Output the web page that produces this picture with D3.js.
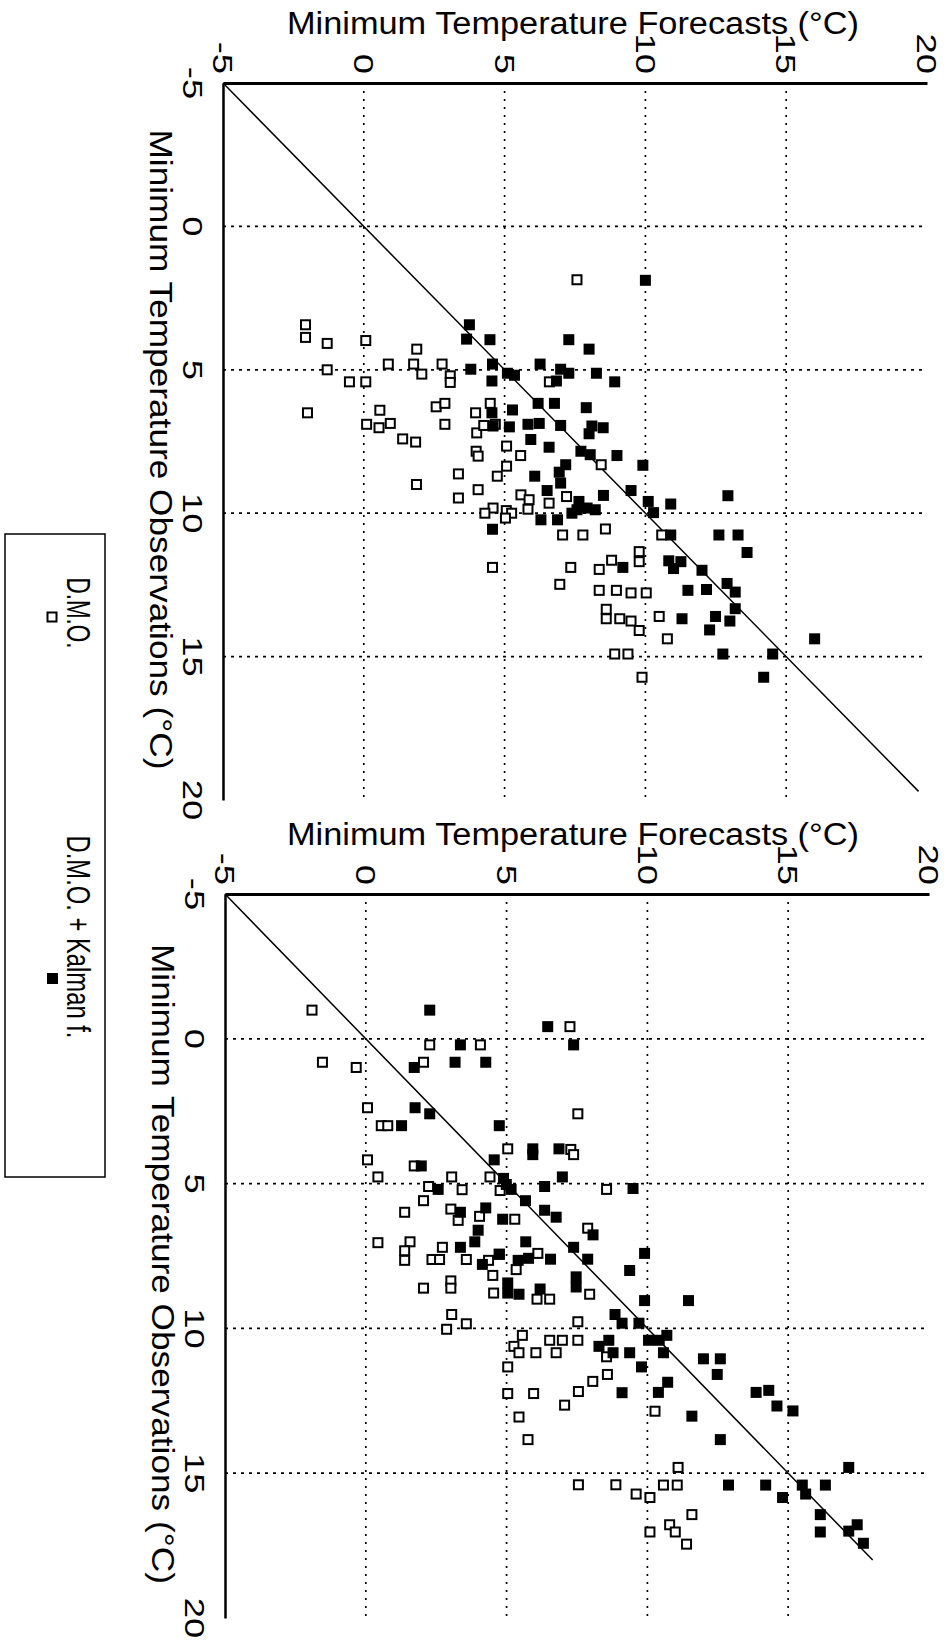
<!DOCTYPE html>
<html>
<head>
<meta charset="utf-8">
<script src="https://cdn.jsdelivr.net/npm/d3@7"></script>
<style>
  body { margin: 0; background: #fff; }
  svg { display: block; }
  text { font-family: "Liberation Sans", Arial, Helvetica, sans-serif; fill: #000; }
</style>
</head>
<body>
<svg id="chart" width="949" height="1641"></svg>
<script>
// ---------- data ----------
const forecastTicks = [-5, 0, 5, 10, 15, 20];
const observationTicks = [-5, 0, 5, 10, 15, 20];
const gridValues = [0, 5, 10, 15];
const forecastTitle = "Minimum Temperature Forecasts (\u00B0C)";
const observationTitle = "Minimum Temperature Observations (\u00B0C)";
const seriesNames = ["D.M.O.", "D.M.O. + Kalman f."];

// [forecast, observation] pairs — upper panel
const upperDMO = [
  [7.57,1.86],[-2.07,3.43],[-2.07,3.87],[-1.30,4.08],[0.07,3.98],[1.88,4.28],[-1.30,5.0],[0.87,4.80],
  [1.77,4.80],[2.78,4.80],[2.06,5.15],[-0.51,5.42],[0.07,5.42],[3.07,5.21],[3.07,5.44],[-2.0,6.50],
  [0.57,6.41],[0.10,6.90],[0.54,7.02],[0.94,6.87],[1.38,7.41],[1.84,7.52],[2.57,6.29],[2.88,6.17],
  [2.88,6.90],[4.49,6.17],[3.97,6.50],[4.01,7.2],[4.67,6.90],[4.26,6.94],[3.99,7.84],[4.06,8.01],
  [5.07,7.66],[5.57,7.99],[5.07,8.36],[6.59,5.42],[3.36,8.63],[1.87,9.0],[4.74,8.71],[4.06,9.18],
  [3.36,9.47],[8.43,8.31],[5.58,9.36],[5.87,9.53],[6.58,9.65],[7.2,9.42],[4.59,9.82],[4.30,10.0],
  [5.06,9.91],[5.25,10.0],[5.03,10.17],[5.83,9.86],[7.06,10.76],[7.78,10.76],[8.58,10.55],[4.57,11.89],
  [7.35,11.89],[6.96,12.48],[8.36,11.96],[8.80,11.64],[9.78,11.34],[9.78,11.69],[10.58,10.76],[8.36,12.69],
  [8.97,12.69],[9.49,12.78],[10.03,12.78],[8.61,13.35],[8.61,13.68],[9.09,13.68],[9.49,13.76],[9.78,14.09],
  [10.49,13.60],[10.78,14.38],[8.91,14.91],[9.38,14.91],[9.88,15.72]
];
const upperKalman = [
  [10.0,1.88],[3.75,3.43],[3.65,3.93],[4.48,3.95],[7.28,3.95],[8.0,4.28],[3.80,4.98],[4.57,4.80],
  [5.10,5.12],[5.35,5.19],[4.55,5.39],[6.26,4.80],[6.99,4.98],[7.28,5.12],[6.84,5.39],[8.26,5.12],
  [8.91,5.42],[6.19,6.17],[6.77,6.17],[5.28,6.40],[4.55,6.50],[7.90,6.32],[4.59,6.96],[5.17,6.99],
  [5.83,6.90],[6.23,6.87],[6.99,6.94],[8.1,6.96],[8.5,7.02],[8.0,7.23],[5.93,7.43],[6.58,7.70],
  [7.71,7.84],[8.04,7.96],[8.99,7.99],[9.91,8.33],[7.17,8.31],[6.94,8.57],[6.07,8.71],[6.99,8.95],
  [6.51,9.21],[8.51,9.38],[9.49,9.21],[7.64,9.59],[7.57,9.88],[7.93,9.82],[8.22,9.88],[7.39,10.0],
  [6.29,10.23],[6.88,10.23],[4.57,10.56],[10.10,9.59],[10.29,9.98],[10.90,9.68],[12.93,9.39],[10.90,10.76],
  [12.61,10.76],[13.29,10.76],[13.61,11.37],[10.83,11.66],[11.26,11.69],[11.0,11.93],[9.20,11.89],[12.01,11.99],
  [11.51,12.69],[12.17,12.66],[12.90,12.45],[13.19,12.75],[13.19,13.33],[12.49,13.60],[13.0,13.76],[11.30,13.68],
  [12.28,14.07],[16.01,14.38],[12.75,14.91],[14.52,14.91],[14.20,15.72]
];

// [forecast, observation] pairs — lower panel
const lowerDMO = [
  [-1.91,-0.99],[-1.54,0.81],[-0.34,0.99],[2.27,0.21],[4.07,0.21],[2.05,0.81],[7.25,-0.42],[7.53,2.59],
  [0.06,2.38],[0.55,3.0],[0.78,3.0],[0.06,4.18],[0.43,4.77],[5.04,3.80],[7.28,3.82],[7.38,4.0],
  [1.72,4.39],[3.05,4.77],[2.23,5.10],[3.42,5.21],[4.41,4.77],[8.55,5.20],[2.05,5.59],[1.38,5.99],
  [3.02,5.88],[3.28,6.27],[4.04,6.13],[4.77,5.24],[5.29,6.23],[7.88,6.54],[0.43,7.04],[1.57,7.01],
  [1.38,7.32],[1.38,7.65],[2.35,7.62],[2.62,7.62],[2.72,7.20],[3.57,7.62],[4.36,7.65],[4.74,7.44],
  [5.34,7.97],[4.51,8.17],[6.11,7.41],[2.05,8.61],[3.02,8.36],[3.02,8.61],[4.54,8.78],[6.08,8.99],
  [6.53,8.99],[7.95,8.82],[3.05,9.52],[2.87,10.03],[3.57,9.84],[5.56,10.24],[5.26,10.62],[5.44,10.84],
  [6.04,10.84],[6.53,10.41],[6.76,10.84],[6.98,10.41],[7.53,9.77],[7.53,10.41],[8.55,10.98],[5.04,11.33],
  [5.04,12.25],[5.96,12.25],[7.55,12.18],[8.06,11.83],[8.58,11.59],[7.06,12.65],[5.44,13.06],[5.76,13.84],
  [10.27,12.86],[7.55,15.40],[8.88,15.40],[9.60,15.72],[10.09,15.84],[10.57,15.41],[11.06,15.41],[11.09,14.80],
  [11.58,16.43],[10.79,16.78],[10.99,17.03],[11.39,17.45],[10.09,17.03]
];
const lowerKalman = [
  [2.27,-0.99],[6.46,-0.42],[7.38,0.21],[3.36,0.21],[1.72,0.99],[3.17,0.81],[4.26,0.81],[1.75,2.38],
  [2.27,2.59],[1.27,3.0],[4.74,3.0],[4.56,4.18],[5.93,3.80],[5.93,4.0],[6.86,3.80],[1.97,4.39],
  [4.89,4.82],[4.99,5.03],[5.16,5.20],[2.57,5.20],[6.35,5.10],[6.98,4.77],[9.49,5.17],[5.67,5.59],
  [4.26,5.84],[3.36,5.99],[4.86,6.23],[6.35,5.92],[6.76,6.16],[3.99,6.61],[3.87,7.01],[3.36,7.20],
  [5.68,7.01],[4.74,7.44],[4.14,7.79],[5.41,7.65],[5.78,7.58],[6.56,7.61],[7.38,7.20],[7.88,7.61],
  [8.07,6.77],[5.04,8.43],[5.04,8.78],[5.44,8.82],[6.19,8.64],[7.47,8.22],[7.47,8.57],[9.90,7.41],
  [9.37,8.0],[9.90,9.04],[11.46,9.04],[8.85,9.52],[9.10,9.82],[9.70,9.82],[10.69,10.24],[10.04,10.41],
  [10.42,10.41],[8.28,10.62],[8.63,10.41],[8.78,10.84],[9.37,10.84],[10.57,10.84],[9.79,11.33],[11.99,11.05],
  [12.59,11.05],[12.48,11.59],[10.72,11.86],[10.39,12.21],[9.10,12.22],[13.86,12.21],[14.31,12.14],[14.60,12.68],
  [15.17,12.85],[11.58,13.03],[12.59,13.84],[17.15,14.80],[12.88,15.41],[14.20,15.41],[15.50,15.41],[15.62,15.72],
  [16.32,15.41],[14.80,15.84],[16.14,16.43],[16.14,17.03],[17.15,17.0],[17.45,16.78],[17.67,17.42]
];

// ---------- layout ----------
const svg = d3.select("#chart");
const panels = [
  { dmo: upperDMO, kal: upperKalman, xr: [223, 927], yr: [83, 800], diagEnd: 19.7, titleY: 34 },
  { dmo: lowerDMO, kal: lowerKalman, xr: [225, 929], yr: [894, 1618], diagEnd: 18.0, titleY: 845 }
];

// text rotated 90° clockwise (reads top to bottom); sx stretches along the reading direction
function rotText(sel, x, y, str, anchor, size, sx) {
  return sel.append("text")
    .attr("transform", `translate(${x},${y}) rotate(90) scale(${sx || 1},1)`)
    .attr("text-anchor", anchor)
    .attr("font-size", size)
    .attr("dy", "0.35em")
    .text(str);
}

panels.forEach(p => {
  const x = d3.scaleLinear().domain([-5, 20]).range(p.xr);
  const y = d3.scaleLinear().domain([-5, 20]).range(p.yr);
  const g = svg.append("g");

  // grid
  g.selectAll(".vg").data(gridValues).join("line")
    .attr("x1", d => x(d)).attr("x2", d => x(d))
    .attr("y1", y(-5)).attr("y2", y(20))
    .attr("stroke", "#000").attr("stroke-width", 1.7).attr("stroke-dasharray", "2,6");
  g.selectAll(".hg").data(gridValues).join("line")
    .attr("x1", x(-5)).attr("x2", x(20))
    .attr("y1", d => y(d)).attr("y2", d => y(d))
    .attr("stroke", "#000").attr("stroke-width", 1.7).attr("stroke-dasharray", "3,5");

  // axes (top forecast axis, left observation axis)
  const ax = g.append("g").attr("transform", `translate(0,${y(-5)})`)
    .call(d3.axisTop(x).tickValues(forecastTicks).tickSize(0).tickSizeOuter(0).tickFormat(""));
  ax.select(".domain").attr("stroke-width", 3);
  const ay = g.append("g").attr("transform", `translate(${x(-5)},0)`)
    .call(d3.axisLeft(y).tickValues(observationTicks).tickSize(0).tickSizeOuter(0).tickFormat(""));
  ay.select(".domain").attr("stroke-width", 2.5);

  // tick labels (rotated)
  forecastTicks.forEach(v => {
    rotText(g, x(v), y(-5) - 9, String(v), "end", 28, 1.3);
  });
  observationTicks.forEach(v => {
    rotText(g, x(-5) - 30, y(v), String(v), "middle", 28, 1.3);
  });

  // titles
  g.append("text").attr("x", 573).attr("y", p.titleY).attr("text-anchor", "middle")
    .attr("font-size", 31).attr("textLength", 572).attr("lengthAdjust", "spacingAndGlyphs")
    .text(forecastTitle);
  rotText(g, x(-5) - 62, (y(-5) + y(20)) / 2 + 8, observationTitle, "middle", 31)
    .attr("textLength", 640).attr("lengthAdjust", "spacingAndGlyphs");

  // 1:1 line
  g.append("line")
    .attr("x1", x(-5)).attr("y1", y(-5)).attr("x2", x(p.diagEnd)).attr("y2", y(p.diagEnd))
    .attr("stroke", "#000").attr("stroke-width", 1.5);

  // points
  const s = 11;
  g.selectAll(".dmo").data(p.dmo).join("rect")
    .attr("x", d => x(d[0]) - s / 2 + 1).attr("y", d => y(d[1]) - s / 2 + 1)
    .attr("width", s - 2).attr("height", s - 2)
    .attr("fill", "#fff").attr("stroke", "#000").attr("stroke-width", 2);
  g.selectAll(".kal").data(p.kal).join("rect")
    .attr("x", d => x(d[0]) - s / 2).attr("y", d => y(d[1]) - s / 2)
    .attr("width", s).attr("height", s)
    .attr("fill", "#000");
});

// legend
const lg = svg.append("g");
lg.append("rect").attr("x", 5).attr("y", 534).attr("width", 100).attr("height", 643)
  .attr("fill", "none").attr("stroke", "#000").attr("stroke-width", 1.5);
rotText(lg, 79, 613, seriesNames[0], "middle", 34, 0.66);
rotText(lg, 79, 937, seriesNames[1], "middle", 34, 0.7);
lg.append("rect").attr("x", 47.5).attr("y", 612.5).attr("width", 9).attr("height", 9)
  .attr("fill", "#fff").attr("stroke", "#000").attr("stroke-width", 2);
lg.append("rect").attr("x", 47).attr("y", 973).attr("width", 11).attr("height", 11).attr("fill", "#000");
</script>
</body>
</html>
